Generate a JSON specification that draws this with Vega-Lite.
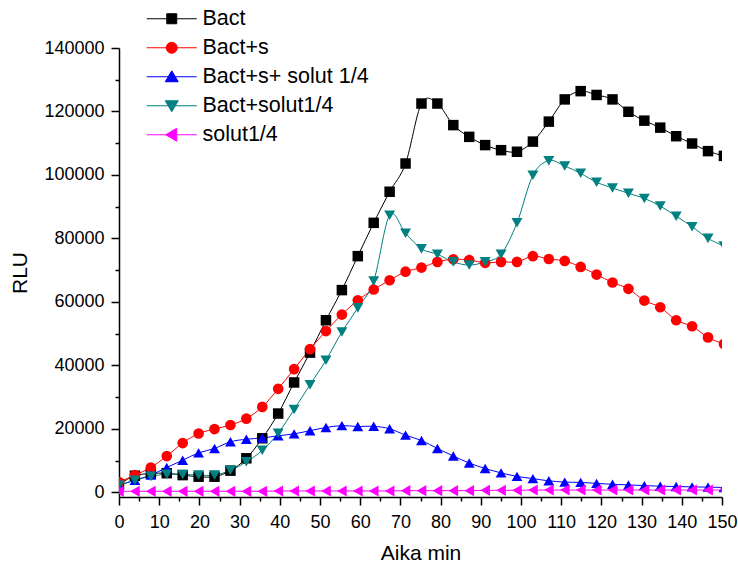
{
  "$schema": "https://vega.github.io/schema/vega-lite/v6.json",
  "width": 603,
  "height": 449,
  "autosize": {"type": "none"},
  "padding": {"left": 119, "top": 48, "right": 16, "bottom": 68},
  "background": "white",
  "config": {
    "view": {"stroke": null},
    "font": "Liberation Sans",
    "axis": {
      "domainColor": "#000000", "domainWidth": 1.5, "tickColor": "#000000", "tickWidth": 1.5,
      "labelColor": "#000000", "labelFont": "Liberation Sans", "labelFontSize": 18,
      "titleFont": "Liberation Sans", "titleFontSize": 21, "titleFontWeight": "normal", "titleColor": "#000000",
      "grid": false
    }
  },
  "data": {"values": [
    {"t":0,"series":"Bact","rlu":2500},{"t":3.96,"series":"Bact","rlu":5200},{"t":7.92,"series":"Bact","rlu":5900},{"t":11.88,"series":"Bact","rlu":6000},{"t":15.84,"series":"Bact","rlu":5400},{"t":19.8,"series":"Bact","rlu":4900},{"t":23.76,"series":"Bact","rlu":4900},{"t":27.72,"series":"Bact","rlu":6800},{"t":31.68,"series":"Bact","rlu":10700},{"t":35.64,"series":"Bact","rlu":17000},{"t":39.6,"series":"Bact","rlu":24800},{"t":43.56,"series":"Bact","rlu":34600},{"t":47.52,"series":"Bact","rlu":44000},{"t":51.48,"series":"Bact","rlu":54200},{"t":55.44,"series":"Bact","rlu":63700},{"t":59.4,"series":"Bact","rlu":74400},{"t":63.36,"series":"Bact","rlu":84900},{"t":67.32,"series":"Bact","rlu":94700},{"t":71.28,"series":"Bact","rlu":103600},{"t":75.24,"series":"Bact","rlu":122500},{"t":79.2,"series":"Bact","rlu":122500},{"t":83.16,"series":"Bact","rlu":115700},{"t":87.12,"series":"Bact","rlu":112000},{"t":91.08,"series":"Bact","rlu":109400},{"t":95.04,"series":"Bact","rlu":107800},{"t":99,"series":"Bact","rlu":107300},{"t":102.96,"series":"Bact","rlu":110500},{"t":106.92,"series":"Bact","rlu":116800},{"t":110.88,"series":"Bact","rlu":123800},{"t":114.84,"series":"Bact","rlu":126400},{"t":118.8,"series":"Bact","rlu":125200},{"t":122.76,"series":"Bact","rlu":123800},{"t":126.72,"series":"Bact","rlu":119900},{"t":130.68,"series":"Bact","rlu":117100},{"t":134.64,"series":"Bact","rlu":114900},{"t":138.6,"series":"Bact","rlu":112200},{"t":142.56,"series":"Bact","rlu":109900},{"t":146.52,"series":"Bact","rlu":107500},{"t":150.48,"series":"Bact","rlu":106000},
    {"t":0,"series":"Bact+s","rlu":3200},{"t":3.96,"series":"Bact+s","rlu":5400},{"t":7.92,"series":"Bact+s","rlu":7800},{"t":11.88,"series":"Bact+s","rlu":11400},{"t":15.84,"series":"Bact+s","rlu":15500},{"t":19.8,"series":"Bact+s","rlu":18500},{"t":23.76,"series":"Bact+s","rlu":19900},{"t":27.72,"series":"Bact+s","rlu":21200},{"t":31.68,"series":"Bact+s","rlu":23200},{"t":35.64,"series":"Bact+s","rlu":26900},{"t":39.6,"series":"Bact+s","rlu":32600},{"t":43.56,"series":"Bact+s","rlu":38800},{"t":47.52,"series":"Bact+s","rlu":45100},{"t":51.48,"series":"Bact+s","rlu":50800},{"t":55.44,"series":"Bact+s","rlu":56000},{"t":59.4,"series":"Bact+s","rlu":60500},{"t":63.36,"series":"Bact+s","rlu":63900},{"t":67.32,"series":"Bact+s","rlu":66800},{"t":71.28,"series":"Bact+s","rlu":69500},{"t":75.24,"series":"Bact+s","rlu":70800},{"t":79.2,"series":"Bact+s","rlu":72600},{"t":83.16,"series":"Bact+s","rlu":73400},{"t":87.12,"series":"Bact+s","rlu":73200},{"t":91.08,"series":"Bact+s","rlu":72300},{"t":95.04,"series":"Bact+s","rlu":72600},{"t":99,"series":"Bact+s","rlu":72600},{"t":102.96,"series":"Bact+s","rlu":74400},{"t":106.92,"series":"Bact+s","rlu":73500},{"t":110.88,"series":"Bact+s","rlu":72900},{"t":114.84,"series":"Bact+s","rlu":71000},{"t":118.8,"series":"Bact+s","rlu":68600},{"t":122.76,"series":"Bact+s","rlu":66100},{"t":126.72,"series":"Bact+s","rlu":64100},{"t":130.68,"series":"Bact+s","rlu":60400},{"t":134.64,"series":"Bact+s","rlu":58300},{"t":138.6,"series":"Bact+s","rlu":54200},{"t":142.56,"series":"Bact+s","rlu":52300},{"t":146.52,"series":"Bact+s","rlu":48800},{"t":150.48,"series":"Bact+s","rlu":46700},
    {"t":0,"series":"Bact+s+ solut 1/4","rlu":2200},{"t":3.96,"series":"Bact+s+ solut 1/4","rlu":3800},{"t":7.92,"series":"Bact+s+ solut 1/4","rlu":5400},{"t":11.88,"series":"Bact+s+ solut 1/4","rlu":7800},{"t":15.84,"series":"Bact+s+ solut 1/4","rlu":10100},{"t":19.8,"series":"Bact+s+ solut 1/4","rlu":12400},{"t":23.76,"series":"Bact+s+ solut 1/4","rlu":13800},{"t":27.72,"series":"Bact+s+ solut 1/4","rlu":15900},{"t":31.68,"series":"Bact+s+ solut 1/4","rlu":16700},{"t":35.64,"series":"Bact+s+ solut 1/4","rlu":17100},{"t":39.6,"series":"Bact+s+ solut 1/4","rlu":17800},{"t":43.56,"series":"Bact+s+ solut 1/4","rlu":18400},{"t":47.52,"series":"Bact+s+ solut 1/4","rlu":19400},{"t":51.48,"series":"Bact+s+ solut 1/4","rlu":20400},{"t":55.44,"series":"Bact+s+ solut 1/4","rlu":21000},{"t":59.4,"series":"Bact+s+ solut 1/4","rlu":20700},{"t":63.36,"series":"Bact+s+ solut 1/4","rlu":20800},{"t":67.32,"series":"Bact+s+ solut 1/4","rlu":20000},{"t":71.28,"series":"Bact+s+ solut 1/4","rlu":18000},{"t":75.24,"series":"Bact+s+ solut 1/4","rlu":16300},{"t":79.2,"series":"Bact+s+ solut 1/4","rlu":13800},{"t":83.16,"series":"Bact+s+ solut 1/4","rlu":11400},{"t":87.12,"series":"Bact+s+ solut 1/4","rlu":9200},{"t":91.08,"series":"Bact+s+ solut 1/4","rlu":7500},{"t":95.04,"series":"Bact+s+ solut 1/4","rlu":6100},{"t":99,"series":"Bact+s+ solut 1/4","rlu":5000},{"t":102.96,"series":"Bact+s+ solut 1/4","rlu":4300},{"t":106.92,"series":"Bact+s+ solut 1/4","rlu":3600},{"t":110.88,"series":"Bact+s+ solut 1/4","rlu":3200},{"t":114.84,"series":"Bact+s+ solut 1/4","rlu":3100},{"t":118.8,"series":"Bact+s+ solut 1/4","rlu":2800},{"t":122.76,"series":"Bact+s+ solut 1/4","rlu":2500},{"t":126.72,"series":"Bact+s+ solut 1/4","rlu":2300},{"t":130.68,"series":"Bact+s+ solut 1/4","rlu":2100},{"t":134.64,"series":"Bact+s+ solut 1/4","rlu":1900},{"t":138.6,"series":"Bact+s+ solut 1/4","rlu":1800},{"t":142.56,"series":"Bact+s+ solut 1/4","rlu":1700},{"t":146.52,"series":"Bact+s+ solut 1/4","rlu":1600},{"t":150.48,"series":"Bact+s+ solut 1/4","rlu":1500},
    {"t":0,"series":"Bact+solut1/4","rlu":2200},{"t":3.96,"series":"Bact+solut1/4","rlu":3800},{"t":7.92,"series":"Bact+solut1/4","rlu":5000},{"t":11.88,"series":"Bact+solut1/4","rlu":5700},{"t":15.84,"series":"Bact+solut1/4","rlu":5600},{"t":19.8,"series":"Bact+solut1/4","rlu":5400},{"t":23.76,"series":"Bact+solut1/4","rlu":5400},{"t":27.72,"series":"Bact+solut1/4","rlu":6900},{"t":31.68,"series":"Bact+solut1/4","rlu":9600},{"t":35.64,"series":"Bact+solut1/4","rlu":13200},{"t":39.6,"series":"Bact+solut1/4","rlu":18600},{"t":43.56,"series":"Bact+solut1/4","rlu":26100},{"t":47.52,"series":"Bact+solut1/4","rlu":33900},{"t":51.48,"series":"Bact+solut1/4","rlu":41600},{"t":55.44,"series":"Bact+solut1/4","rlu":50500},{"t":59.4,"series":"Bact+solut1/4","rlu":58100},{"t":63.36,"series":"Bact+solut1/4","rlu":66600},{"t":67.32,"series":"Bact+solut1/4","rlu":87300},{"t":71.28,"series":"Bact+solut1/4","rlu":81600},{"t":75.24,"series":"Bact+solut1/4","rlu":76700},{"t":79.2,"series":"Bact+solut1/4","rlu":75000},{"t":83.16,"series":"Bact+solut1/4","rlu":72600},{"t":87.12,"series":"Bact+solut1/4","rlu":71600},{"t":91.08,"series":"Bact+solut1/4","rlu":72600},{"t":95.04,"series":"Bact+solut1/4","rlu":75000},{"t":99,"series":"Bact+solut1/4","rlu":84900},{"t":102.96,"series":"Bact+solut1/4","rlu":99900},{"t":106.92,"series":"Bact+solut1/4","rlu":104500},{"t":110.88,"series":"Bact+solut1/4","rlu":102800},{"t":114.84,"series":"Bact+solut1/4","rlu":100500},{"t":118.8,"series":"Bact+solut1/4","rlu":97700},{"t":122.76,"series":"Bact+solut1/4","rlu":95900},{"t":126.72,"series":"Bact+solut1/4","rlu":94200},{"t":130.68,"series":"Bact+solut1/4","rlu":92600},{"t":134.64,"series":"Bact+solut1/4","rlu":90200},{"t":138.6,"series":"Bact+solut1/4","rlu":87000},{"t":142.56,"series":"Bact+solut1/4","rlu":83700},{"t":146.52,"series":"Bact+solut1/4","rlu":80000},{"t":150.48,"series":"Bact+solut1/4","rlu":77600},
    {"t":0,"series":"solut1/4","rlu":300},{"t":3.96,"series":"solut1/4","rlu":300},{"t":7.92,"series":"solut1/4","rlu":300},{"t":11.88,"series":"solut1/4","rlu":300},{"t":15.84,"series":"solut1/4","rlu":300},{"t":19.8,"series":"solut1/4","rlu":300},{"t":23.76,"series":"solut1/4","rlu":300},{"t":27.72,"series":"solut1/4","rlu":300},{"t":31.68,"series":"solut1/4","rlu":300},{"t":35.64,"series":"solut1/4","rlu":300},{"t":39.6,"series":"solut1/4","rlu":400},{"t":43.56,"series":"solut1/4","rlu":400},{"t":47.52,"series":"solut1/4","rlu":400},{"t":51.48,"series":"solut1/4","rlu":400},{"t":55.44,"series":"solut1/4","rlu":400},{"t":59.4,"series":"solut1/4","rlu":400},{"t":63.36,"series":"solut1/4","rlu":400},{"t":67.32,"series":"solut1/4","rlu":400},{"t":71.28,"series":"solut1/4","rlu":500},{"t":75.24,"series":"solut1/4","rlu":500},{"t":79.2,"series":"solut1/4","rlu":500},{"t":83.16,"series":"solut1/4","rlu":500},{"t":87.12,"series":"solut1/4","rlu":500},{"t":91.08,"series":"solut1/4","rlu":600},{"t":95.04,"series":"solut1/4","rlu":600},{"t":99,"series":"solut1/4","rlu":600},{"t":102.96,"series":"solut1/4","rlu":700},{"t":106.92,"series":"solut1/4","rlu":700},{"t":110.88,"series":"solut1/4","rlu":700},{"t":114.84,"series":"solut1/4","rlu":700},{"t":118.8,"series":"solut1/4","rlu":700},{"t":122.76,"series":"solut1/4","rlu":700},{"t":126.72,"series":"solut1/4","rlu":700},{"t":130.68,"series":"solut1/4","rlu":700},{"t":134.64,"series":"solut1/4","rlu":700},{"t":138.6,"series":"solut1/4","rlu":700},{"t":142.56,"series":"solut1/4","rlu":700},{"t":146.52,"series":"solut1/4","rlu":700},{"t":150.48,"series":"solut1/4","rlu":700}
  ]},
  "layer": [
    {
      "mark": {"type": "line", "interpolate": "cardinal", "strokeWidth": 1, "clip": true},
      "encoding": {
        "x": {"field": "t", "type": "quantitative",
          "scale": {"domain": [0, 150], "nice": false, "zero": false},
          "axis": {"orient": "bottom", "values": [0,10,20,30,40,50,60,70,80,90,100,110,120,130,140,150], "tickSize": 8, "labelPadding": 8, "title": "Aika min", "titlePadding": 11, "labelFlush": false, "labelOverlap": false}},
        "y": {"field": "rlu", "type": "quantitative",
          "scale": {"domain": [-1500, 140000], "nice": false, "zero": false},
          "axis": {"orient": "left", "values": [0,20000,40000,60000,80000,100000,120000,140000], "format": "d", "tickSize": 8, "labelPadding": 7, "title": "RLU", "titlePadding": 13, "labelFlush": false, "labelOverlap": false}},
        "color": {"field": "series", "type": "nominal",
          "scale": {"domain": ["Bact", "Bact+s", "Bact+s+ solut 1/4", "Bact+solut1/4", "solut1/4"], "range": ["#000000", "#ff0000", "#0000ff", "#008080", "#ff00ff"]}}
      }
    },
    {
      "mark": {"type": "point", "filled": true, "opacity": 1, "clip": true},
      "encoding": {
        "x": {"field": "t", "type": "quantitative",
          "axis": {"orient": "bottom", "values": [5,15,25,35,45,55,65,75,85,95,105,115,125,135,145], "tickSize": 4, "labels": false, "domain": false, "title": null}},
        "y": {"field": "rlu", "type": "quantitative",
          "axis": {"orient": "left", "values": [10000,30000,50000,70000,90000,110000,130000], "tickSize": 4, "labels": false, "domain": false, "title": null}},
        "color": {"field": "series", "type": "nominal",
          "legend": {
            "orient": "none", "legendX": 42, "legendY": -40, "title": null, "padding": 0,
            "symbolSize": 400, "symbolStrokeWidth": 1, "symbolOpacity": 1,
            "labelFont": "Liberation Sans", "labelFontSize": 21.5, "labelColor": "#000000", "labelOffset": 20, "labelLimit": 400,
            "rowPadding": 6,
            "encoding": {"symbols": {
              "shape": {"value": {"expr": "datum.value === 'Bact' ? 'M-2.5,0H2.5M-0.5,-0.5H0.5V0.5H-0.5Z' : datum.value === 'Bact+s' ? 'M-2.5,0H2.5M-0.55,0A0.55,0.55,0,1,1,0.55,0A0.55,0.55,0,1,1,-0.55,0Z' : datum.value === 'Bact+s+ solut 1/4' ? 'M-2.5,0H2.5M0,-0.6L0.65,0.5L-0.65,0.5Z' : datum.value === 'Bact+solut1/4' ? 'M-2.5,0H2.5M0,0.6L0.65,-0.5L-0.65,-0.5Z' : 'M-2.5,0H2.5M-0.6,0L0.5,-0.65L0.5,0.65Z'"}},
              "stroke": {"value": {"expr": "datum.value === 'Bact' ? '#000000' : datum.value === 'Bact+s' ? '#ff0000' : datum.value === 'Bact+s+ solut 1/4' ? '#0000ff' : datum.value === 'Bact+solut1/4' ? '#008080' : '#ff00ff'"}},
              "fill": {"value": {"expr": "datum.value === 'Bact' ? '#000000' : datum.value === 'Bact+s' ? '#ff0000' : datum.value === 'Bact+s+ solut 1/4' ? '#0000ff' : datum.value === 'Bact+solut1/4' ? '#008080' : '#ff00ff'"}},
              "size": {"value": 400},
              "strokeWidth": {"value": 1},
              "opacity": {"value": 1}
            }}
          }},
        "shape": {"field": "series", "type": "nominal",
          "scale": {"range": ["square", "circle", "triangle-up", "triangle-down", "triangle-left"]},
          "legend": null},
        "size": {"field": "series", "type": "nominal",
          "scale": {"range": [110, 125, 175, 175, 175]},
          "legend": null}
      }
    }
  ],
  "resolve": {"axis": {"x": "independent", "y": "independent"}}
}
